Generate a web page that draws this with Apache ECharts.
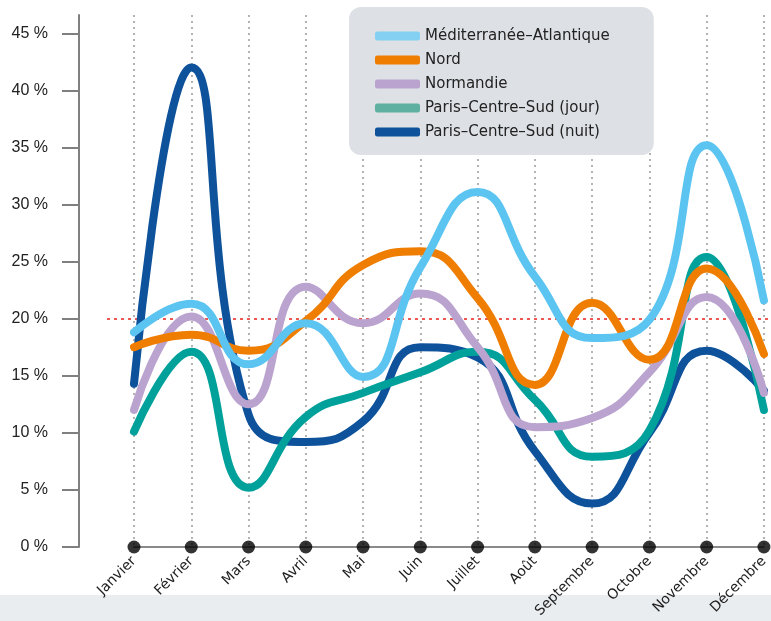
<!DOCTYPE html>
<html>
<head>
<meta charset="utf-8">
<script src="https://cdn.jsdelivr.net/npm/echarts@6/dist/echarts.min.js"></script>
<style>
  html, body { margin: 0; padding: 0; background: #ffffff; }
  #chart { width: 771px; height: 621px; }
</style>
</head>
<body>
<div id="chart"></div>
<script>
// Monthly share per region (%)
const months = ['Janvier', 'Février', 'Mars', 'Avril', 'Mai', 'Juin', 'Juillet', 'Août', 'Septembre', 'Octobre', 'Novembre', 'Décembre'];
const mediterraneeAtlantique = [18.8, 21.3, 16.0, 19.6, 14.9, 24.5, 31.1, 23.7, 18.3, 19.9, 35.2, 21.6];
const nord = [17.5, 18.6, 17.2, 19.8, 24.7, 25.9, 21.8, 14.2, 21.4, 16.4, 24.4, 16.9];
const normandie = [12.0, 20.2, 12.5, 22.8, 19.6, 22.2, 17.5, 10.5, 11.3, 15.3, 21.9, 13.5];
const parisJour = [10.1, 17.1, 5.2, 11.4, 13.5, 15.3, 17.1, 12.9, 7.9, 10.2, 25.4, 12.0];
const parisNuit = [14.3, 42.0, 11.6, 9.2, 11.0, 17.5, 16.6, 8.4, 3.8, 10.0, 17.2, 13.7];
const referenceLevel = 20;
const yTicks = [0, 5, 10, 15, 20, 25, 30, 35, 40, 45];

const seriesDefs = [
  { name: 'Méditerranée–Atlantique', data: mediterraneeAtlantique, color: '#5bc4f1', legendColor: '#84d0f2' },
  { name: 'Nord', data: nord, color: '#ef7d00', legendColor: '#ef7d00' },
  { name: 'Normandie', data: normandie, color: '#bba3cf', legendColor: '#bba3cf' },
  { name: 'Paris–Centre–Sud (jour)', data: parisJour, color: '#00a19a', legendColor: '#5fb0a0' },
  { name: 'Paris–Centre–Sud (nuit)', data: parisNuit, color: '#0d529b', legendColor: '#0d529b' }
];

const chart = echarts.init(document.getElementById('chart'), null, { renderer: 'canvas' });

// Later regions are drawn first so the first one ends up on top
const lineSeries = seriesDefs.map((d, i) => ({
  name: d.name,
  type: 'line',
  data: d.data,
  smooth: 0.5,
  showSymbol: false,
  clip: false,
  z: 10 - i,
  color: d.legendColor,
  lineStyle: { color: d.color, width: 8, cap: 'round', join: 'round' },
  emphasis: { disabled: true }
}));

const fontText = '"DejaVu Sans", sans-serif';

chart.setOption({
  animation: false,
  backgroundColor: '#ffffff',
  graphic: [{
    type: 'rect',
    z: -10,
    silent: true,
    shape: { x: 0, y: 595, width: 771, height: 26 },
    style: { fill: '#eaedf0' }
  }],
  legend: {
    data: seriesDefs.map(d => d.name),
    orient: 'vertical',
    left: 349,
    top: 7,
    padding: [21, 44, 15, 26],
    backgroundColor: '#dde0e4',
    borderRadius: 12,
    itemWidth: 45,
    itemHeight: 9,
    itemGap: 8,
    icon: 'roundRect',
    selectedMode: false,
    z: 20,
    textStyle: { fontFamily: fontText, fontSize: 15, color: '#222222', lineHeight: 16 }
  },
  grid: { left: 134, right: 2, top: 15, bottom: 74, containLabel: false },
  xAxis: {
    type: 'category',
    data: months,
    boundaryGap: false,
    axisLine: { show: true, lineStyle: { color: '#8a8a8a', width: 2 } },
    axisTick: { show: false },
    axisLabel: {
      interval: 0,
      rotate: 45,
      margin: 12,
      fontFamily: fontText,
      fontSize: 14,
      color: '#222222'
    },
    splitLine: { show: true, interval: 0, lineStyle: { color: '#9a9a9a', width: 1.5, type: [2, 4] } }
  },
  yAxis: {
    type: 'value',
    min: 0,
    max: 46.6,
    interval: 5,
    offset: 55,
    axisLine: { show: true, lineStyle: { color: '#808080', width: 2 } },
    axisTick: { show: true, length: 17, customValues: yTicks, lineStyle: { color: '#808080', width: 2 } },
    axisLabel: {
      customValues: yTicks,
      margin: 31,
      fontFamily: '"Liberation Sans", Arial, sans-serif',
      fontSize: 16,
      color: '#222222',
      formatter: v => v + ' %'
    },
    splitLine: { show: false }
  },
  series: [
    ...lineSeries,
    {
      name: 'repere',
      type: 'line',
      data: [],
      silent: true,
      markLine: {
        silent: true,
        symbol: 'none',
        label: { show: false },
        lineStyle: { color: '#e2231a', width: 1.5, type: [3, 4] },
        data: [[
          { coord: [0, referenceLevel], x: 107 },
          { coord: [months.length - 1, referenceLevel], x: 771 }
        ]]
      },
      z: 1
    },
    {
      name: 'mois',
      type: 'scatter',
      data: months.map(() => 0),
      symbolSize: 13,
      itemStyle: { color: '#000000' },
      silent: true,
      z: 12
    }
  ]
});
</script>
</body>
</html>
